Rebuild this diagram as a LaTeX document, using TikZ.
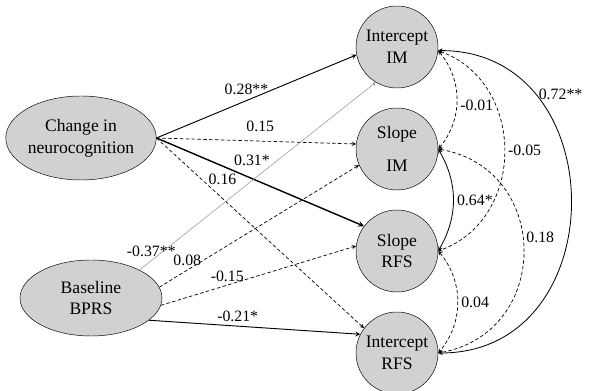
\documentclass[tikz,border=0pt]{standalone}
\usepackage{fontspec}
\setmainfont{Liberation Serif}
\usetikzlibrary{shapes.geometric}

\begin{document}
\begin{tikzpicture}[node distance=3.06cm,
  factor/.style={draw, circle, fill=black!18, minimum size=2.46cm, inner sep=0pt, align=center, font=\fontsize{15}{18.5}\selectfont},
  measure/.style={draw, ellipse, fill=black!18, inner sep=0pt, align=center, font=\fontsize{15}{18.5}\selectfont},
  coef/.style={font=\fontsize{13.5}{16}\selectfont, inner sep=3pt},
  effect/.style={arrows=-stealth, line width=0.8pt},
  neffect/.style={arrows=-stealth, line width=0.6pt, dash pattern=on 3pt off 2pt},
  corr/.style={arrows=stealth-stealth, line width=0.7pt},
  ncorr/.style={arrows=stealth-stealth, line width=0.6pt, dash pattern=on 3pt off 2pt}]
\useasboundingbox (0,0) rectangle (17.67,11.73);
\node  (1)[factor] at (11.91,10.32) {Intercept\\IM};
\node  (2)[factor] [below of = 1] {Slope\\[10pt]IM};
\node  (3)[factor] [below of = 2] {Slope\\RFS};
\node  (4)[factor] [below of = 3] {Intercept\\RFS};
\node  (5)[measure, minimum width=4.08cm, minimum height=2.52cm] at (2.43,7.59) {Change in\\neurocognition};
\node  (6)[measure, minimum width=4.26cm, minimum height=2.28cm] at (2.73,2.79) {Baseline\\BPRS};
% effects of change in neurocognition
\draw[effect] (5.east) -- node[coef, pos=0.45, above, yshift=2pt] {0.28**} (1.191);
\draw[neffect] (5.east) -- node[coef, pos=0.52, above, yshift=5pt] {0.15} (2.173);
\draw[effect, line width=1.2pt] (5.east) -- node[coef, pos=0.46, above, yshift=7pt] {0.31*} (3.143);
\draw[neffect] (5.east) -- node[coef, pos=0.25, above right, inner sep=0pt] {0.16} (4.143);
% effects of baseline BPRS
\draw[effect, line width=0.4pt, black!45] (6.30) -- node[coef, pos=0.05, above, black] {-0.37**} (1.239);
\draw[neffect] (6.9) -- node[coef, pos=0.14, above] {0.08} (2.203);
\draw[neffect] (6.-6) -- node[coef, pos=0.34, above] {-0.15} (3.173);
\draw[effect] (6.-21) -- node[coef, pos=0.42, above] {-0.21*} (4.153);
% covariances
\draw[ncorr] (1.-5) to[bend left=40] node[coef, pos=0.55, right] {-0.01} (2.east);
\draw[ncorr] (1.-5) to[bend left=70, looseness=1.2] node[coef, right] {-0.05} (3.east);
\draw[corr] (1.-5) to[bend left=90, looseness=1.5] node[coef, pos=0.24, right] {0.72**} (4.east);
\draw[corr] (2.east) to[bend left=30] node[coef, right] {0.64*} (3.east);
\draw[ncorr] (2.east) to[bend left=80, looseness=1.45] node[coef, pos=0.45, right] {0.18} (4.east);
\draw[ncorr] (3.east) to[bend left=40] node[coef, right] {0.04} (4.east);
\end{tikzpicture}
\end{document}
